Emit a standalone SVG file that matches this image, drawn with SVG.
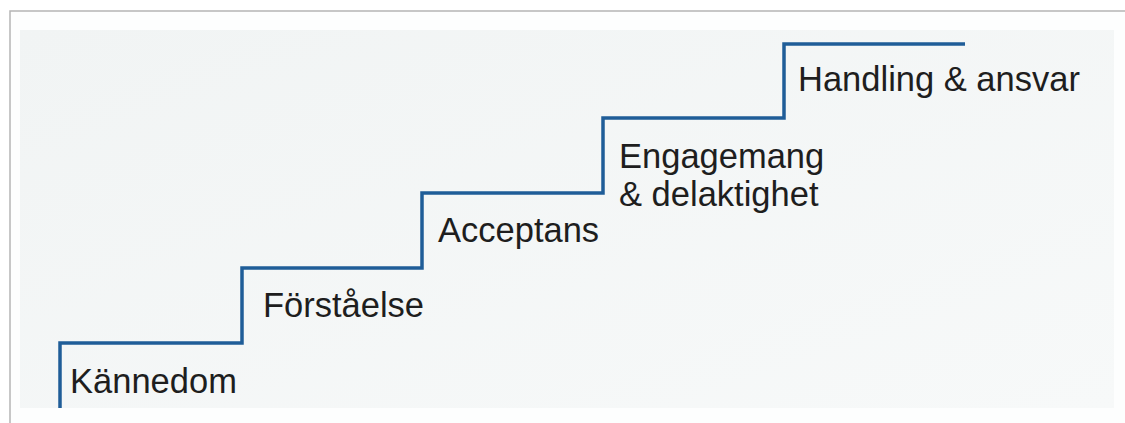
<svg xmlns="http://www.w3.org/2000/svg" width="1125" height="423" viewBox="0 0 1125 423">
<defs>
<style>
.lbl{font-family:"Liberation Sans",Arial,sans-serif;font-size:34.5px;fill:#1e1e1e}
.stair{fill:none;stroke:#1f5d98;stroke-width:3.5;stroke-linejoin:miter}
</style>
<linearGradient id="bg" x1="0" y1="0" x2="1" y2="1">
<stop offset="0" stop-color="#f1f4f4"/>
<stop offset="1" stop-color="#f7f9f9"/>
</linearGradient>
</defs>
<rect x="0" y="0" width="1125" height="423" fill="#ffffff"/>
<rect x="10" y="11" width="1125" height="420" fill="#fdfefe" stroke="#b5b5b5" stroke-width="1.5"/>
<rect x="20" y="30" width="1094" height="378" fill="url(#bg)"/>
<g id="connectors">
<path class="stair" d="M60,408 V343 H242 V268 H422 V193 H603 V118 H784 V44 H965"/>
</g>
<g id="n1"><text class="lbl" x="70" y="393">Kännedom</text></g>
<g id="n2"><text class="lbl" x="263" y="317">Förståelse</text></g>
<g id="n3"><text class="lbl" x="438" y="242">Acceptans</text></g>
<g id="n4"><text class="lbl" x="619" y="168">Engagemang</text><text class="lbl" x="619" y="206">&amp; delaktighet</text></g>
<g id="n5"><text class="lbl" x="798" y="91">Handling &amp; ansvar</text></g>
</svg>
